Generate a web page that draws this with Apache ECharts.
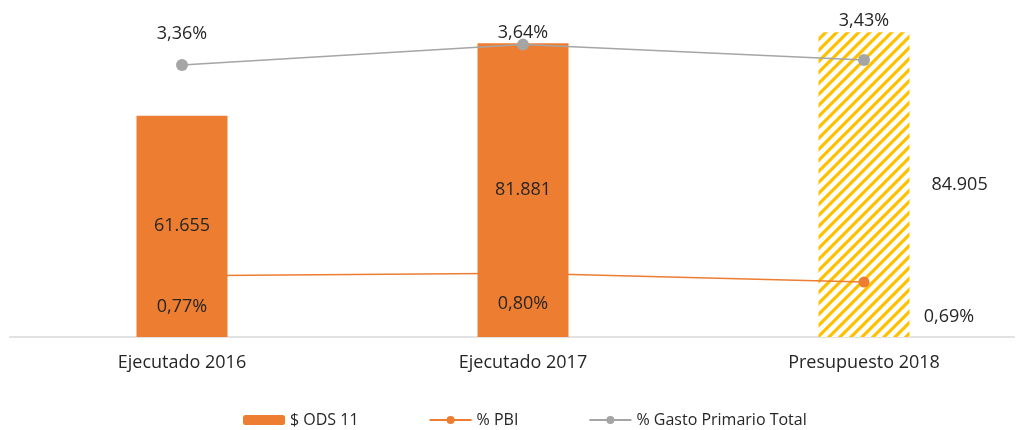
<!DOCTYPE html>
<html>
<head>
<meta charset="utf-8">
<script src="https://cdn.jsdelivr.net/npm/echarts@6/dist/echarts.min.js"></script>
<style>
html,body{margin:0;padding:0;background:#fff;}
#chart{width:1025px;height:430px;}
</style>
</head>
<body>
<div id="chart"></div>
<script>
const categories = ['Ejecutado 2016', 'Ejecutado 2017', 'Presupuesto 2018'];
const odsValues = [61655, 81881, 84905];
const pbiValues = [0.77, 0.80, 0.69];
const gastoValues = [3.36, 3.64, 3.43];
const seriesNames = ['$ ODS 11', '% PBI', '% Gasto Primario Total'];

const FONT = 'Open Sans';
const TXT = '#262626';
const FS = 18;

function fmtThousands(v) {
  return String(v).replace(/\B(?=(\d{3})+(?!\d))/g, '.');
}
function fmtPct(v) {
  return v.toFixed(2).replace('.', ',') + '%';
}

// hatch pattern for budget bar
const pat = document.createElement('canvas');
pat.width = 11; pat.height = 11;
const pc = pat.getContext('2d');
pc.fillStyle = '#ffffff';
pc.fillRect(0, 0, 11, 11);
pc.strokeStyle = '#FFC000';
pc.lineWidth = 3.2;
pc.beginPath();
pc.moveTo(0, 11); pc.lineTo(11, 0);
pc.moveTo(-2, 2); pc.lineTo(2, -2);
pc.moveTo(9, 13); pc.lineTo(13, 9);
pc.stroke();

const barData = odsValues.map((v, i) => {
  const d = { value: v };
  if (i === 2) {
    d.itemStyle = { color: { image: pat, repeat: 'repeat' } };
    d.label = { position: 'right', distance: 22 };
  }
  return d;
});

const gastoLabelDist = [16, -3, 24];
const gastoData = gastoValues.map((v, i) => ({ value: v, label: { distance: gastoLabelDist[i] } }));

const pbiLabelCfg = [
  { position: 'bottom', distance: 17 },
  { position: 'bottom', distance: 16 },
  { position: 'bottom', distance: 20, offset: [85, 0] }
];
const pbiData = pbiValues.map((v, i) => ({ value: v, label: pbiLabelCfg[i] }));

const chart = echarts.init(document.getElementById('chart'), null, { renderer: 'canvas' });
chart.setOption({
  animation: false,
  textStyle: { fontFamily: FONT },
  grid: { left: 11.5, width: 1023, top: 14, height: 323, containLabel: false, outerBoundsMode: 'none' },
  legend: {
    data: seriesNames,
    left: 238,
    top: 407,
    itemWidth: 42,
    itemHeight: 10,
    itemGap: 70,
    textStyle: { fontFamily: FONT, fontSize: 16, color: TXT }
  },
  xAxis: {
    type: 'category',
    data: categories,
    axisLine: { show: false },
    axisTick: { show: false },
    axisLabel: { color: TXT, fontSize: FS, fontFamily: FONT, margin: 17 }
  },
  yAxis: [
    { type: 'value', min: 0, max: 90000, show: false },
    { type: 'value', min: 0, max: 4.06, show: false },
    { type: 'value', min: -0.37, max: 4.06, show: false }
  ],
  graphic: [{
    type: 'line',
    shape: { x1: 9, y1: 337, x2: 1015, y2: 337 },
    style: { stroke: '#d9d9d9', lineWidth: 1.5 },
    silent: true
  }],
  series: [
    {
      name: seriesNames[0],
      type: 'bar',
      yAxisIndex: 0,
      barWidth: 91,
      data: barData,
      itemStyle: { color: '#ED7D31' },
      label: {
        show: true, position: 'inside', color: TXT, fontSize: FS, fontFamily: FONT,
        formatter: p => fmtThousands(p.value)
      },
      z: 1
    },
    {
      name: seriesNames[1],
      type: 'line',
      yAxisIndex: 1,
      data: pbiData,
      symbol: 'circle',
      symbolSize: 11,
      itemStyle: { color: '#ED7D31' },
      lineStyle: { color: '#ED7D31', width: 1.5 },
      label: {
        show: true, color: TXT, fontSize: FS, fontFamily: FONT,
        formatter: p => fmtPct(p.value)
      },
      z: 3
    },
    {
      name: seriesNames[2],
      type: 'line',
      yAxisIndex: 2,
      data: gastoData,
      symbol: 'circle',
      symbolSize: 12,
      itemStyle: { color: '#A5A5A5' },
      lineStyle: { color: '#A5A5A5', width: 1.5 },
      label: {
        show: true, position: 'top', color: TXT, fontSize: FS, fontFamily: FONT,
        formatter: p => fmtPct(p.value)
      },
      z: 3
    }
  ]
});
</script>
</body>
</html>
